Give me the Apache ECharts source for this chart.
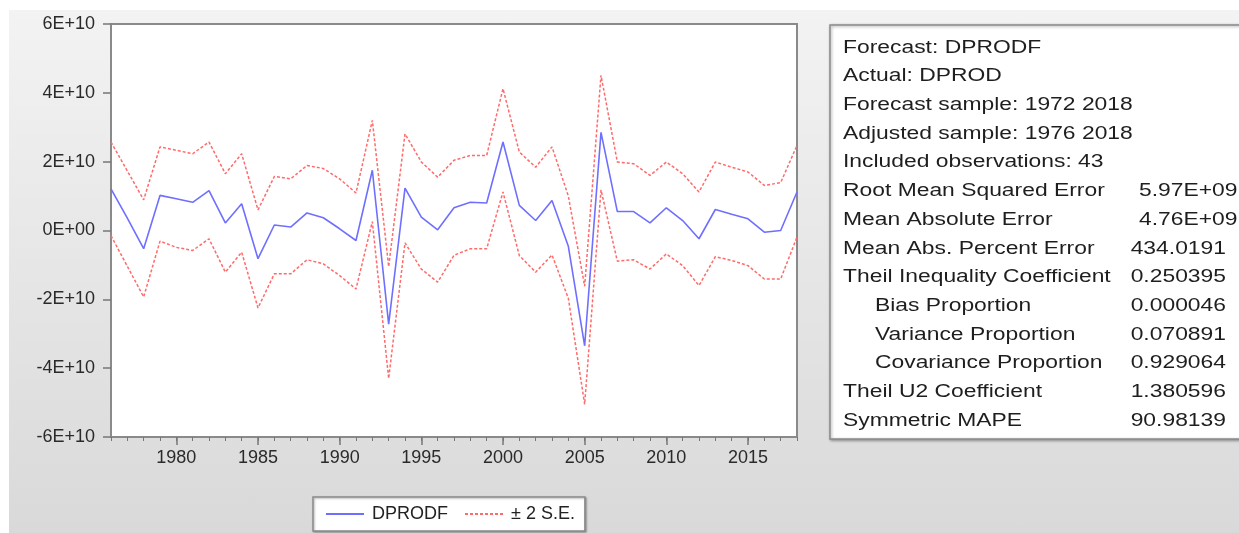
<!DOCTYPE html>
<html>
<head>
<meta charset="utf-8">
<script src="https://cdn.jsdelivr.net/npm/echarts@6/dist/echarts.min.js"></script>
<style>
html,body{margin:0;padding:0;background:#fff;overflow:hidden;}
#bg{position:absolute;left:9px;top:10px;width:1230px;height:523px;background:linear-gradient(#f3f3f3,#d9d9d9);}
#c{position:absolute;left:0;top:0;width:1239px;height:533px;}
</style>
</head>
<body>
<div id="bg"></div>
<div id="c"></div>
<script>
// ---- data ----
const years = [1976,1977,1978,1979,1980,1981,1982,1983,1984,1985,1986,1987,1988,1989,1990,
  1991,1992,1993,1994,1995,1996,1997,1998,1999,2000,2001,2002,2003,2004,2005,
  2006,2007,2008,2009,2010,2011,2012,2013,2014,2015,2016,2017,2018];

const forecast = [1.21e10,0.36e10,-0.53e10,1.02e10,0.92e10,0.82e10,1.16e10,0.22e10,0.78e10,-0.82e10,
  0.16e10,0.10e10,0.51e10,0.37e10,0.05e10,-0.29e10,1.75e10,-2.72e10,1.23e10,0.39e10,
  0.02e10,0.66e10,0.82e10,0.80e10,2.57e10,0.73e10,0.29e10,0.87e10,-0.46e10,-3.35e10,
  2.85e10,0.55e10,0.55e10,0.22e10,0.66e10,0.29e10,-0.24e10,0.61e10,0.47e10,0.34e10,
  -0.05e10,0.00e10,1.12e10];

const upperBand = [2.57e10,1.73e10,0.89e10,2.43e10,2.33e10,2.23e10,2.57e10,1.65e10,2.23e10,0.60e10,
  1.57e10,1.50e10,1.89e10,1.80e10,1.50e10,1.09e10,3.20e10,-1.05e10,2.81e10,1.99e10,
  1.55e10,2.04e10,2.18e10,2.18e10,4.12e10,2.28e10,1.84e10,2.43e10,1.00e10,-1.62e10,
  4.51e10,1.99e10,1.94e10,1.60e10,1.99e10,1.65e10,1.12e10,1.99e10,1.84e10,1.70e10,
  1.31e10,1.39e10,2.47e10];

const lowerBand = [-0.15e10,-1.04e10,-1.93e10,-0.31e10,-0.49e10,-0.58e10,-0.24e10,-1.21e10,-0.63e10,-2.25e10,
  -1.26e10,-1.26e10,-0.85e10,-0.97e10,-1.31e10,-1.70e10,0.26e10,-4.30e10,-0.36e10,-1.12e10,
  -1.50e10,-0.72e10,-0.53e10,-0.53e10,1.12e10,-0.73e10,-1.21e10,-0.71e10,-1.97e10,-5.05e10,
  1.18e10,-0.89e10,-0.85e10,-1.12e10,-0.68e10,-1.02e10,-1.60e10,-0.76e10,-0.87e10,-1.02e10,
  -1.41e10,-1.41e10,-0.19e10];

const xLabelYears = [1980,1985,1990,1995,2000,2005,2010,2015];
const yTickLabels = {'60000000000':'6E+10','40000000000':'4E+10','20000000000':'2E+10','0':'0E+00',
  '-20000000000':'-2E+10','-40000000000':'-4E+10','-60000000000':'-6E+10'};

const seriesNames = ['DPRODF', '\u00B1 2 S.E.'];

const statLabels = ['Forecast: DPRODF','Actual: DPROD','Forecast sample: 1972 2018','Adjusted sample: 1976 2018',
  'Included observations: 43','Root Mean Squared Error','Mean Absolute Error','Mean Abs. Percent Error',
  'Theil Inequality Coefficient','Bias Proportion','Variance Proportion','Covariance Proportion',
  'Theil U2 Coefficient','Symmetric MAPE'];
const statValues = ['','','','','','5.97E+09','4.76E+09','434.0191','0.250395','0.000046','0.070891','0.929064','1.380596','90.98139'];
const statIndented = [false,false,false,false,false,false,false,false,false,true,true,true,false,false];

// ---- chart ----
const FONT = '"Liberation Sans", Arial, sans-serif';
const chart = echarts.init(document.getElementById('c'), null, {renderer:'canvas'});

const pairs = arr => years.map((y,i) => [y, arr[i]]);

const stretch = 1.27;
const graphicEls = [{
  type:'rect', z:0,
  shape:{x:830, y:25, width:440, height:414},
  style:{fill:'#fff', stroke:'#8a8a8a', lineWidth:1.5, shadowBlur:3, shadowColor:'rgba(0,0,0,0.35)', shadowOffsetX:1, shadowOffsetY:1}
}];
statLabels.forEach((lab,i) => {
  const yy = 47.5 + 28.7*i;
  graphicEls.push({type:'text', z:1, x: statIndented[i] ? 875 : 843, y: yy, scaleX: stretch, scaleY: 1.04,
    style:{text:lab, font:'18px ' + FONT, fill:'#1e1e1e', align:'left', verticalAlign:'middle'}});
  const v = statValues[i];
  if (v) {
    const isE = v.indexOf('E+') >= 0;
    graphicEls.push({type:'text', z:1, x: isE ? 1139 : 1226, y: yy, scaleX: stretch, scaleY: 1.04,
      style:{text:v, font:'18px ' + FONT, fill:'#1e1e1e', align: isE ? 'left' : 'right', verticalAlign:'middle'}});
  }
});

const option = {
  animation:false,
  backgroundColor:'transparent',
  textStyle:{fontFamily:FONT},
  grid:{left:111, top:24, right:442, bottom:96, show:true, backgroundColor:'#fff', borderColor:'#8a8a8a', borderWidth:2},
  legend:{
    left:313, top:497, orient:'horizontal',
    data:seriesNames,
    padding:[8,10,8,12], itemWidth:38, itemHeight:14, itemGap:16,
    backgroundColor:'#fff', borderColor:'#8a8a8a', borderWidth:1.5,
    shadowBlur:2, shadowColor:'rgba(0,0,0,0.3)', shadowOffsetX:1, shadowOffsetY:1,
    itemStyle:{opacity:0},
    textStyle:{fontSize:18, color:'#222', fontFamily:FONT, padding:[0,0,0,3]}
  },
  xAxis:[{
    type:'value', min:1976, max:2018, interval:1,
    axisLine:{show:true, onZero:false, lineStyle:{color:'#8a8a8a', width:2}},
    axisTick:{show:true, length:4, lineStyle:{color:'#777', width:1}},
    axisLabel:{formatter: v => xLabelYears.indexOf(v) >= 0 ? String(v) : '', margin:12, fontSize:18, color:'#2a2a2a', fontFamily:FONT},
    splitLine:{show:false}
  },{
    type:'value', min:1976, max:2018, interval:1, position:'bottom',
    axisLine:{show:false, onZero:false},
    axisTick:{show:true, length:8, customValues:xLabelYears, lineStyle:{color:'#777', width:1.5}},
    axisLabel:{show:false},
    splitLine:{show:false}
  }],
  yAxis:{
    type:'value', min:-6e10, max:6e10, interval:2e10,
    axisLine:{show:true, onZero:false, lineStyle:{color:'#8a8a8a', width:2}},
    axisTick:{show:true, length:8, lineStyle:{color:'#777', width:1.5}},
    axisLabel:{formatter: v => yTickLabels[String(v)] || '', margin:16, fontSize:18, color:'#2a2a2a', fontFamily:FONT},
    splitLine:{show:false}
  },
  series:[{
    name:seriesNames[0], type:'line', xAxisIndex:0, data:pairs(forecast),
    symbol:'none', lineStyle:{color:'#6f6fff', width:1.6}, itemStyle:{color:'#6f6fff'}, z:3
  },{
    name:seriesNames[1], type:'line', xAxisIndex:0, data:pairs(upperBand),
    symbol:'none', lineStyle:{color:'#ff6a6a', width:1.5, type:[3,2]}, itemStyle:{color:'#ff6a6a'}, z:2
  },{
    name:seriesNames[1], type:'line', xAxisIndex:0, data:pairs(lowerBand),
    symbol:'none', lineStyle:{color:'#ff6a6a', width:1.5, type:[3,2]}, itemStyle:{color:'#ff6a6a'}, z:2
  }],
  graphic:graphicEls
};
chart.setOption(option);
</script>
</body>
</html>
